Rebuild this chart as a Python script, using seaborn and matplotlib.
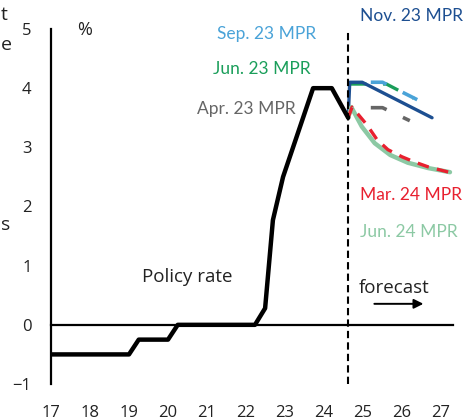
import seaborn as sns
import matplotlib.pyplot as plt

# policy rate (outcome)
policy_x = [17.0, 19.0, 19.25, 20.0, 20.25, 22.23, 22.49, 22.69, 22.95, 23.72, 24.2, 24.62]
policy_y = [-0.5, -0.5, -0.25, -0.25, 0.0, 0.0, 0.28, 1.77, 2.5, 4.0, 4.0, 3.5]

# MPR forecasts
apr23_x = [25.2, 25.5, 26.2]
apr23_y = [3.67, 3.67, 3.45]
jun23_x = [24.66, 25.6, 26.3]
jun23_y = [4.07, 4.07, 3.83]
sep23_x = [25.2, 25.5, 26.8]
sep23_y = [4.1, 4.1, 3.67]
nov23_x = [24.62, 24.66, 24.98, 26.77]
nov23_y = [3.5, 4.1, 4.1, 3.5]
mar24_x = [24.62, 24.72, 25.1, 25.36, 25.64, 26.0, 26.33, 26.67, 27.2]
mar24_y = [3.5, 3.68, 3.38, 3.13, 2.96, 2.84, 2.75, 2.67, 2.58]
jun24_x = [24.62, 24.7, 24.97, 25.3, 25.7, 26.15, 26.67, 27.23]
jun24_y = [3.5, 3.68, 3.35, 3.07, 2.87, 2.74, 2.65, 2.58]

years = list(range(17, 28))
forecast_start = 24.62

sns.set_style('white')
plt.rcParams['font.family'] = ['Open Sans', 'DejaVu Sans']

fig = plt.figure(figsize=(4.75, 4.2), dpi=100)
ax = fig.add_axes([51 / 475, 36 / 420, (27.3 - 17) * 39 / 475, 355 / 420])

sns.lineplot(x=jun23_x, y=jun23_y, ax=ax, color='#1a9e5a', lw=2.4)
ax.lines[-1].set_dashes([5, 5])
sns.lineplot(x=sep23_x, y=sep23_y, ax=ax, color='#4aa3d8', lw=2.6)
ax.lines[-1].set_dashes([4.5, 5])
sns.lineplot(x=apr23_x, y=apr23_y, ax=ax, color='#666666', lw=2.6)
ax.lines[-1].set_dashes([4.5, 5])
sns.lineplot(x=nov23_x, y=nov23_y, ax=ax, color='#1d4f91', lw=2.4)
sns.lineplot(x=jun24_x, y=jun24_y, ax=ax, color='#8cc9a4', lw=3.2)
sns.lineplot(x=mar24_x, y=mar24_y, ax=ax, color='#e8202f', lw=2.4)
ax.lines[-1].set_dashes([3.5, 2.5])
sns.lineplot(x=policy_x, y=policy_y, ax=ax, color='black', lw=3.2)

ax.axvline(forecast_start, ymin=0.0, ymax=0.995, color='black', lw=1.5, ls=(0, (3.5, 2)))

ax.set_xlim(17, 27.3)
ax.set_ylim(-1, 5)
ax.set_yticks(range(-1, 6))
ax.set_xticks(years)
ax.set_xticklabels([str(y) for y in years])

ax.spines['top'].set_visible(False)
ax.spines['right'].set_visible(False)
ax.spines['bottom'].set_position(('data', 0))
for s in ['left', 'bottom']:
    ax.spines[s].set_linewidth(1.6)
    ax.spines[s].set_color('black')
ax.tick_params(axis='y', direction='in', length=5, width=1.6, pad=14, labelsize=12, colors='black', labelcolor='#222222')
ax.tick_params(axis='x', direction='out', length=5, width=1.6, pad=53, labelsize=12, colors='black', labelcolor='#222222')

ax.text(17.85, 4.98, '%', fontsize=13, ha='center', va='center', color='#222222')

lab_font = ['Lato', 'DejaVu Sans']
ax.text(24.92, 5.22, 'Nov. 23 MPR', color='#1d4f91', fontsize=12.5, family=lab_font, va='center')
ax.text(21.26, 4.92, 'Sep. 23 MPR', color='#4aa3d8', fontsize=12.5, family=lab_font, va='center')
ax.text(21.15, 4.32, 'Jun. 23 MPR', color='#1a9e5a', fontsize=12.5, family=lab_font, va='center')
ax.text(20.74, 3.65, 'Apr. 23 MPR', color='#666666', fontsize=12.5, family=lab_font, va='center')
ax.text(24.92, 2.2, 'Mar. 24 MPR', color='#e8202f', fontsize=12.5, family=lab_font, va='center')
ax.text(24.92, 1.57, 'Jun. 24 MPR', color='#8cc9a4', fontsize=12.5, family=lab_font, va='center')

ax.text(20.5, 0.8, 'Policy rate', fontsize=13.5, ha='center', va='center', color='#222222')
ax.text(25.8, 0.62, 'forecast', fontsize=13.5, ha='center', va='center', color='#222222')
ax.annotate('', xy=(26.62, 0.355), xytext=(25.22, 0.355),
            arrowprops=dict(arrowstyle='-|>', color='black', lw=1.4, mutation_scale=14))

# letters from the neighbouring panel at the left edge
for yy, ch in [(15, 't'), (45, 'e'), (225, 's')]:
    fig.text(0.5 / 475, 1 - yy / 420, ch, ha='left', va='center', fontsize=14, color='#222222')

fig.savefig('out.png', dpi=100)
